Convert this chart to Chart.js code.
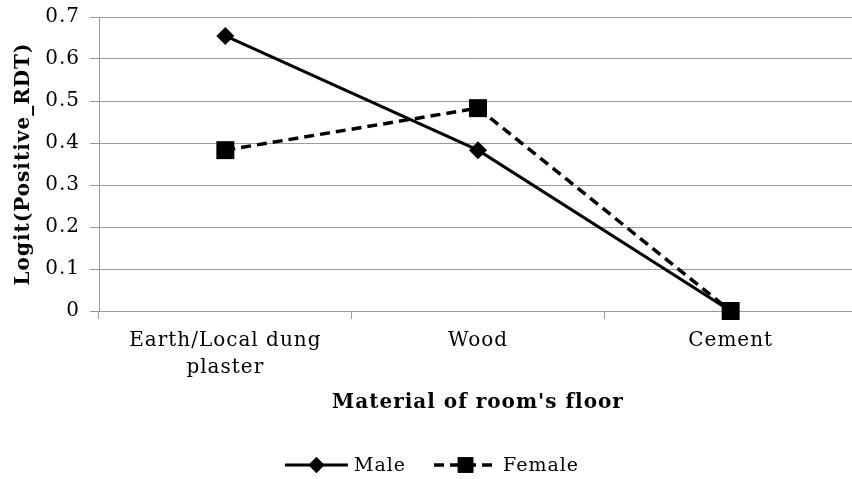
<!DOCTYPE html>
<html>
<head>
<meta charset="utf-8">
<script src="https://cdn.jsdelivr.net/npm/chart.js@4/dist/chart.umd.min.js"></script>
<style>
  html, body { margin: 0; padding: 0; background: #ffffff; overflow: hidden; }
  #wrap { width: 852px; height: 479px; overflow: hidden; position: relative; }
  #c { display: block; }
</style>
</head>
<body>
<div id="wrap"><canvas id="c" width="860" height="479" style="width:860px;height:479px"></canvas></div>
<script>
const categories = [["Earth/Local dung", "plaster"], "Wood", "Cement"];
const maleValues = [0.655, 0.383, 0];
const femaleValues = [0.383, 0.483, 0];
const seriesNames = ["Male", "Female"];
const yMin = 0, yMax = 0.7, yStep = 0.1;
const xTitle = "Material of room's floor";
const yTitle = "Logit(Positive_RDT)";

const FONT = "'DejaVu Serif', 'Liberation Serif', serif";
const GRID = "#9a9a9a";
const VIEW_W = 852;

const spacingPlugin = {
  id: 'spacing',
  beforeInit(chart) { try { chart.ctx.letterSpacing = '1px'; } catch (e) {} },
  beforeDraw(chart) { try { chart.ctx.letterSpacing = '1px'; } catch (e) {} }
};

const legendPlugin = {
  id: 'customLegend',
  afterDraw(chart) {
    const ctx = chart.ctx;
    ctx.save();
    ctx.font = "19px " + FONT;
    const ds = chart.data.datasets;
    const lineLen = 63, gapTxt = 6, gapItem = 28;
    const widths = ds.map(d => ctx.measureText(d.label).width);
    let total = 0;
    ds.forEach((d, i) => { total += lineLen + gapTxt + widths[i]; if (i < ds.length - 1) total += gapItem; });
    let x = VIEW_W / 2 - total / 2 + 6;
    const y = chart.height - 14;
    ds.forEach((d, i) => {
      ctx.strokeStyle = d.borderColor;
      ctx.lineWidth = d.borderWidth;
      ctx.setLineDash(d.borderDash || []);
      ctx.beginPath(); ctx.moveTo(x, y); ctx.lineTo(x + lineLen, y); ctx.stroke();
      ctx.setLineDash([]);
      Chart.helpers.drawPoint(ctx, {pointStyle: d.pointStyle, radius: d.legendRadius, borderWidth: 0}, x + lineLen / 2, y);
      ctx.fillStyle = '#000';
      ctx.fill();
      ctx.textAlign = 'left'; ctx.textBaseline = 'middle';
      ctx.fillText(d.label, x + lineLen + gapTxt, y + 1);
      x += lineLen + gapTxt + widths[i] + gapItem;
    });
    ctx.restore();
  }
};

new Chart(document.getElementById('c'), {
  type: 'line',
  data: {
    labels: categories,
    datasets: [
      {
        label: seriesNames[0], data: maleValues,
        borderColor: '#000', backgroundColor: '#000', borderWidth: 3,
        pointStyle: 'rectRot', pointRadius: 9, pointHoverRadius: 9, legendRadius: 8,
        pointBackgroundColor: '#000', pointBorderWidth: 0, tension: 0, clip: false
      },
      {
        label: seriesNames[1], data: femaleValues,
        borderColor: '#000', backgroundColor: '#000', borderWidth: 3.5, borderDash: [10, 6],
        pointStyle: 'rect', pointRadius: 12.7, pointHoverRadius: 12.7, legendRadius: 11,
        pointBackgroundColor: '#000', pointBorderWidth: 0, tension: 0, clip: false
      }
    ]
  },
  options: {
    responsive: false, maintainAspectRatio: false, animation: false, devicePixelRatio: 1,
    layout: { autoPadding: false, padding: { top: 17, right: 3, bottom: 50, left: 0 } },
    plugins: { legend: { display: false }, tooltip: { enabled: false } },
    scales: {
      x: {
        offset: true,
        grid: { offset: true, drawOnChartArea: false, drawTicks: true, tickLength: 8, color: GRID, lineWidth: 1 },
        border: { display: true, color: GRID, width: 1 },
        ticks: { color: '#000', font: { family: FONT, size: 20, lineHeight: 1.35 }, padding: 8, maxRotation: 0, autoSkip: false },
        title: { display: true, text: xTitle, color: '#000', font: { family: FONT, size: 20, weight: 'bold' }, padding: { top: 0, bottom: 14 } },
        afterFit(s) { s.height = 118; s.paddingLeft = 0; s.paddingRight = 0; }
      },
      y: {
        min: yMin, max: yMax,
        grid: { color: GRID, lineWidth: 1, drawTicks: true, tickLength: 9 },
        border: { display: true, color: GRID, width: 1 },
        ticks: { stepSize: yStep, color: '#000', font: { family: FONT, size: 20 }, padding: 10,
                 callback: v => String(Number(v.toFixed(1))) },
        title: { display: true, text: yTitle, color: '#000', font: { family: FONT, size: 20, weight: 'bold' }, padding: { top: 12, bottom: 0 } },
        afterFit(s) { s.width = 99; s.paddingTop = 0; s.paddingBottom = 0; }
      }
    }
  },
  plugins: [spacingPlugin, legendPlugin]
});
</script>
</body>
</html>
